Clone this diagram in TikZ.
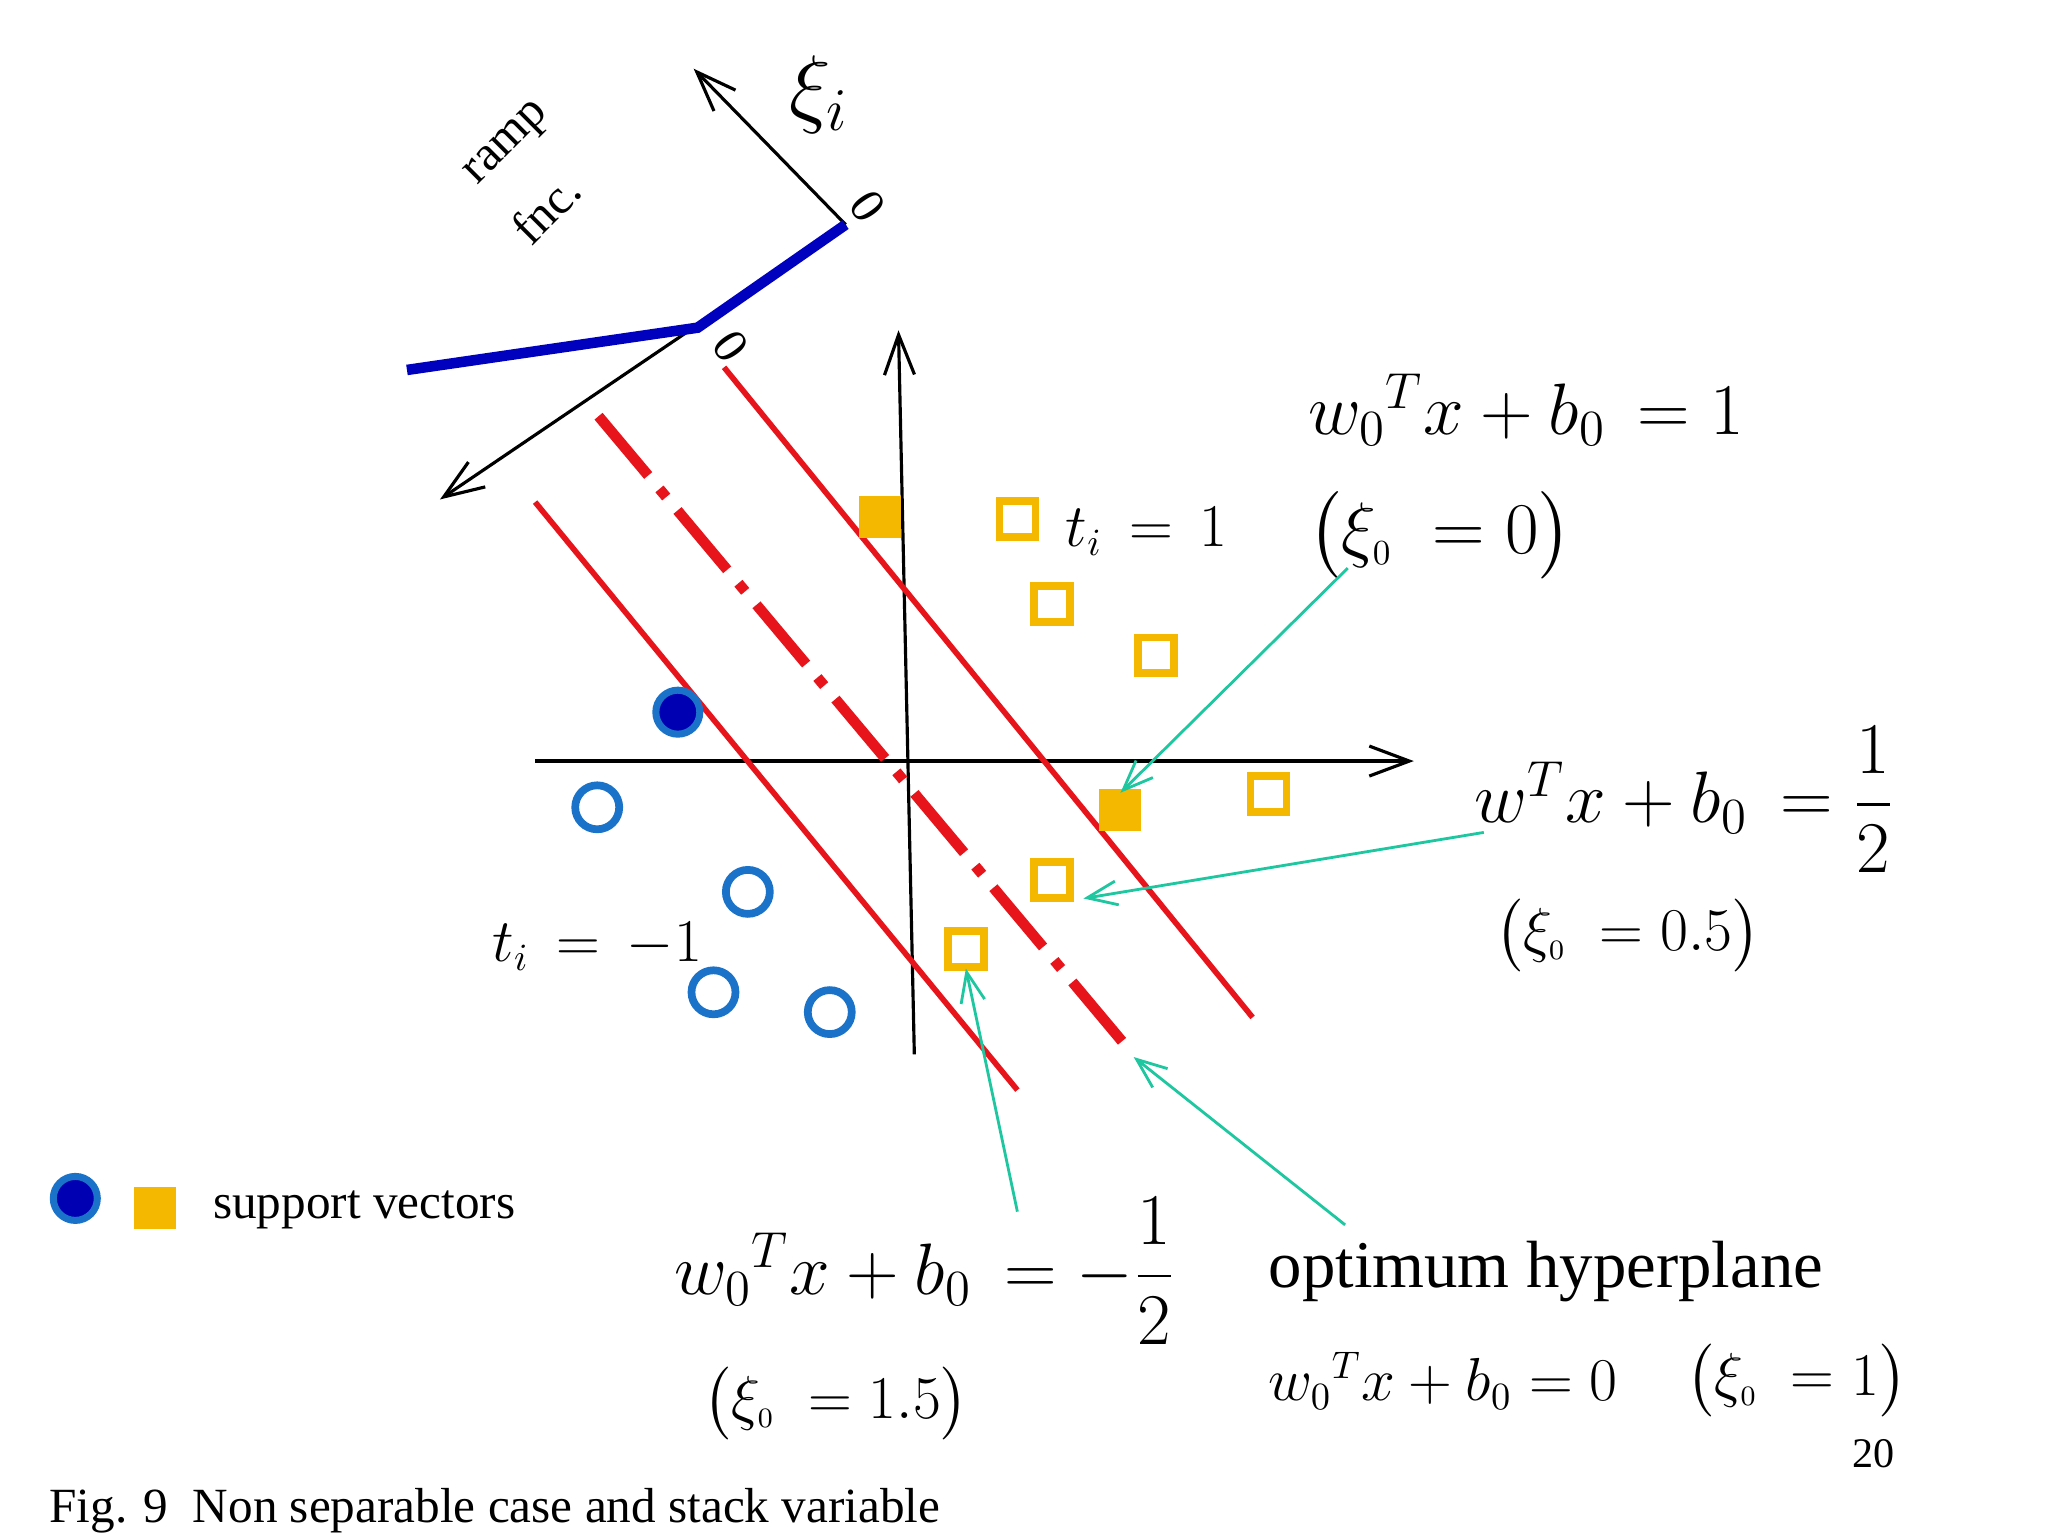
\documentclass[tikz,border=0pt]{standalone}
\usepackage{amsmath}
\usepackage{fontspec}
\setmainfont{Liberation Serif}
\usetikzlibrary{arrows.meta}
\definecolor{sq}{HTML}{F5B800}
\definecolor{cb}{HTML}{1A73C8}
\definecolor{gr}{HTML}{1FC7A0}
\definecolor{rd}{HTML}{E8141C}
\tikzset{
 ax/.style={-{Straight Barb[length=4mm,width=3mm]},line width=0.9pt},
 sqo/.style={draw=sq,line width=2.2pt,minimum size=0.36cm,inner sep=0pt},
 sqf/.style={fill=sq,minimum size=0.42cm,inner sep=0pt},
 cio/.style={circle,draw=cb,line width=2.2pt,minimum size=0.44cm,inner sep=0pt},
 cif/.style={circle,draw=cb,fill=blue!70!black,line width=2pt,minimum size=0.44cm,inner sep=0pt},
 gar/.style={-{Straight Barb[length=3mm,width=2.4mm]},draw=gr,line width=0.8pt},
 rl/.style={draw=rd,line width=1.6pt},
 big/.style={font=\fontsize{20}{24}\selectfont},
 mid/.style={font=\fontsize{16}{19}\selectfont},
 sm/.style={font=\fontsize{14}{17}\selectfont},
}
\begin{document}
\begin{tikzpicture}[x=0.013213cm,y=-0.013213cm]
\useasboundingbox[fill=white] (0,0) rectangle (1550,1162.5);
% ramp axes
\coordinate (ro) at (640,170);
\coordinate (rk) at (528,248);
\coordinate (rl0) at (308,280);
\coordinate (xa) at (525,52);
\coordinate (ya) at (333,378);
\draw[ax] (ro) -- (xa);
\draw[ax] (ro) -- (ya);
\draw[blue!75!black,line width=3pt] (rl0) -- (rk) -- (ro);
\node[sm,rotate=-55] (z1) at (657,156) {0};
\node[sm,rotate=-55] (z2) at (553,262) {0};
\node[sm,rotate=45,inner sep=0pt] (ramp) at (385,110) {ramp};
\node[sm,rotate=45,inner sep=0pt] (fnc) at (413,158) {fnc.};
\node[font=\fontsize{24}{28}\selectfont] (xi) at (620,72) {$\xi_i$};
% main axes
\coordinate (h1) at (405,576); \coordinate (h2) at (1070,576);
\coordinate (v1) at (692,798); \coordinate (v2) at (680,250);
\draw[ax] (h1) -- (h2);
\draw[ax] (v1) -- (v2);
% red lines
\coordinate (a1) at (548,278); \coordinate (a2) at (948,770);
\coordinate (b1) at (405,380); \coordinate (b2) at (770,825);
\coordinate (c1) at (453,315); \coordinate (c2) at (855,795);
\draw[rl] (a1) -- (a2);
\draw[rl] (b1) -- (b2);
\draw[rl,line width=3pt,dash pattern=on 22pt off 5pt on 3pt off 5pt] (c1) -- (c2);
% points
\node[sqf] (f1) at (666,391) {};
\node[sqf] (f2) at (848,613) {};
\node[sqo] (s1) at (770,393) {};
\node[sqo] (s2) at (796,457) {};
\node[sqo] (s3) at (875,496) {};
\node[sqo] (s4) at (960,601) {};
\node[sqo] (s5) at (796,666) {};
\node[sqo] (s6) at (731,718) {};
\node[cif] (cf) at (513,539) {};
\node[cio] (c1n) at (452,611) {};
\node[cio] (c2n) at (566,675) {};
\node[cio] (c3n) at (540,751) {};
\node[cio] (c4n) at (628,766) {};
\node[mid] (tp) at (868,402) {$t_i\,=\,1$};
\node[mid] (tm) at (452,716) {$t_i\,=\,-1$};
% formulas
\node[big] (e1) at (1155,310) {$w_0{}^T x+b_0\,=1$};
\node[big] (e1x) at (1090,405) {$\bigl(\xi_{\scriptscriptstyle 0}\;=0\bigr)$};
\node[big] (e2) at (1275,605) {$w^T x+b_0\,=\dfrac{1}{2}$};
\node[mid] (e2x) at (1232,708) {$\bigl(\xi_{\scriptscriptstyle 0}\;=0.5\bigr)$};
\node[big] (e3) at (700,962) {$w_0{}^T x+b_0\,=-\dfrac{1}{2}$};
\node[mid] (e3x) at (633,1062) {$\bigl(\xi_{\scriptscriptstyle 0}\;=1.5\bigr)$};
\node[font=\fontsize{19}{23}\selectfont] (opt) at (1170,962) {optimum hyperplane};
\node[mid] (e4) at (1092,1045) {$w_0{}^T x+b_0=0$};
\node[mid] (e4x) at (1360,1045) {$\bigl(\xi_{\scriptscriptstyle 0}\;=1\bigr)$};
\node[font=\fontsize{12}{14}\selectfont] (pg) at (1418,1100) {20};
\node[sm,anchor=west] (cap) at (28,1143) {Fig. 9\enspace Non separable case and stack variable};
% legend
\node[cif] (lc) at (57,907) {};
\node[sqf] (ls) at (117,914) {};
\node[sm,anchor=west] (lt) at (152,916) {support vectors};
% green arrows
\coordinate (g1) at (1020,430); \coordinate (g2) at (1123,630);
\coordinate (g3) at (770,917); \coordinate (g4) at (1018,927);
\coordinate (g1e) at (848,600); \coordinate (g2e) at (820,680);
\coordinate (g3e) at (731,733); \coordinate (g4e) at (858,800);
\draw[gar] (g1) -- (g1e);
\draw[gar] (g2) -- (g2e);
\draw[gar] (g3) -- (g3e);
\draw[gar] (g4) -- (g4e);
\end{tikzpicture}
\end{document}
